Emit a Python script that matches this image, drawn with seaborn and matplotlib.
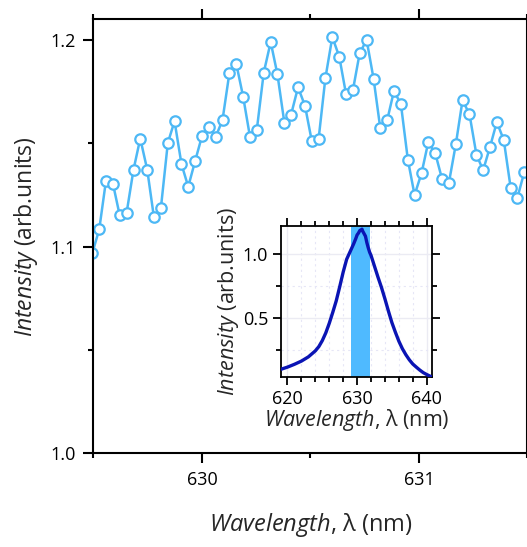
import matplotlib
matplotlib.use("Agg")
import matplotlib.pyplot as plt
from matplotlib.ticker import MultipleLocator
import numpy as np
import pandas as pd
import seaborn as sns

# Zoomed emission spectrum (sampled wavelengths, nm)
wavelength_nm = [
    629.495, 629.527, 629.558, 629.590, 629.621, 629.653, 629.685, 629.716,
    629.748, 629.779, 629.811, 629.843, 629.874, 629.906, 629.937, 629.969,
    630.001, 630.032, 630.064, 630.095, 630.127, 630.159, 630.190, 630.222,
    630.253, 630.285, 630.317, 630.348, 630.380, 630.411, 630.443, 630.475,
    630.506, 630.538, 630.569, 630.601, 630.633, 630.664, 630.696, 630.727,
    630.759, 630.791, 630.822, 630.854, 630.885, 630.917, 630.949, 630.980,
    631.012, 631.043, 631.075, 631.107, 631.138, 631.170, 631.201, 631.233,
    631.265, 631.296, 631.328, 631.359, 631.391, 631.423, 631.454, 631.486,
]
intensity = [
    1.0968, 1.1084, 1.1319, 1.1305, 1.1153, 1.1163, 1.1373, 1.1523,
    1.1373, 1.1142, 1.1186, 1.1502, 1.1607, 1.1399, 1.1290, 1.1415,
    1.1537, 1.1578, 1.1532, 1.1613, 1.1842, 1.1882, 1.1726, 1.1529,
    1.1565, 1.1842, 1.1990, 1.1834, 1.1600, 1.1639, 1.1771, 1.1682,
    1.1513, 1.1523, 1.1815, 1.2014, 1.1919, 1.1739, 1.1758, 1.1936,
    1.2000, 1.1813, 1.1573, 1.1613, 1.1753, 1.1690, 1.1421, 1.1250,
    1.1355, 1.1505, 1.1453, 1.1326, 1.1308, 1.1495, 1.1708, 1.1641,
    1.1445, 1.1370, 1.1484, 1.1603, 1.1516, 1.1283, 1.1237, 1.1363,
]

# Full emission band
full_wavelength_nm = [
    619.0, 620.0, 621.0, 622.0, 623.0, 624.0, 624.5, 625.0, 625.5, 626.0,
    626.5, 627.0, 627.5, 628.0, 628.5, 629.0, 629.5, 629.8, 630.0, 630.2,
    630.4, 630.6, 630.7, 630.8, 631.0, 631.2, 631.4, 631.6, 631.8, 632.0,
    632.5, 633.0, 633.5, 634.0, 634.5, 635.0, 635.5, 636.0, 636.5, 637.0,
    637.5, 638.0, 638.5, 639.0, 639.5, 640.0, 640.5, 641.0,
]
full_intensity = [
    0.100, 0.118, 0.140, 0.165, 0.198, 0.245, 0.278, 0.325, 0.385, 0.460,
    0.545, 0.635, 0.745, 0.860, 0.960, 1.020, 1.080, 1.120, 1.150, 1.165,
    1.185, 1.190, 1.195, 1.180, 1.160, 1.140, 1.090, 1.050, 1.015, 0.990,
    0.905, 0.820, 0.740, 0.650, 0.555, 0.465, 0.390, 0.320, 0.262, 0.215,
    0.175, 0.142, 0.118, 0.095, 0.075, 0.060, 0.047, 0.037,
]

# Wavelength window shown in the main panel, highlighted in the inset
window_nm = [629.15, 631.8]

main_x_ticks = [630, 631]
main_y_ticks = [1.0, 1.1, 1.2]
inset_x_ticks = [620, 630, 640]
inset_y_ticks = [0.5, 1.0]

sns.set_style("ticks")
plt.rcParams["font.family"] = ["Open Sans", "DejaVu Sans"]
plt.rcParams["mathtext.fontset"] = "custom"
plt.rcParams["mathtext.rm"] = "Open Sans"
plt.rcParams["mathtext.it"] = "Open Sans:italic"

LIGHT = "#4db8f5"
DARK = "#0a14b4"
BAND = "#4fbaff"

zoom_df = pd.DataFrame({"wl": wavelength_nm, "I": intensity})
full_df = pd.DataFrame({"wl": full_wavelength_nm, "I": full_intensity})

fig = plt.figure(figsize=(5.27, 5.47), dpi=100)
ax = fig.add_axes([0.1772, 0.1713, 0.8236, 0.7934])

sns.lineplot(data=zoom_df, x="wl", y="I", ax=ax, color=LIGHT, linewidth=1.8,
             marker="o", markersize=7.5, markerfacecolor="white",
             markeredgecolor=LIGHT, markeredgewidth=1.6, clip_on=True)

ax.set_xlim(629.5, 631.5)
ax.set_ylim(1.0, 1.21)
ax.set_xticks(main_x_ticks)
ax.set_xticklabels([str(t) for t in main_x_ticks])
ax.set_yticks(main_y_ticks)
ax.set_yticklabels([f"{t:.1f}" for t in main_y_ticks])
ax.xaxis.set_minor_locator(MultipleLocator(0.5))
ax.yaxis.set_minor_locator(MultipleLocator(0.05))
ax.tick_params(which="both", direction="out", width=1.5, top=True,
               labelsize=13, colors="black")
ax.tick_params(which="major", length=7.5, pad=5)
ax.tick_params(which="minor", length=3.5)
ax.tick_params(axis="y", which="both", right=False)
for side in ["top", "bottom", "left", "right"]:
    ax.spines[side].set_linewidth(1.5)
    ax.spines[side].set_color("black")
ax.set_xlabel(r"$\mathit{Wavelength}$, λ (nm)", fontsize=17, labelpad=16)
ax.set_ylabel(r"$\mathit{Intensity}$ (arb.units)", fontsize=16.5, labelpad=8)

# Inset: full emission spectrum with the zoom window marked
ins = fig.add_axes([0.5323, 0.3099, 0.2880, 0.2770])
ins.axvspan(window_nm[0], window_nm[1], color=BAND, lw=0, zorder=1)
sns.lineplot(data=full_df, x="wl", y="I", ax=ins, color=DARK, linewidth=2.4,
             zorder=3)
ins.set_xlim(619.0, 640.8)
ins.set_ylim(0.037, 1.22)
ins.set_xticks(inset_x_ticks)
ins.set_yticks(inset_y_ticks)
ins.set_yticklabels([f"{t:.1f}" for t in inset_y_ticks])
ins.xaxis.set_minor_locator(MultipleLocator(2))
ins.yaxis.set_minor_locator(MultipleLocator(0.25))
ins.grid(which="major", color="#ebebf3", linewidth=1.0, linestyle="-", zorder=0)
ins.grid(which="minor", color="#e6e6f6", linewidth=0.8, linestyle=(0, (2, 3)),
         zorder=0)
ins.set_axisbelow(True)
ins.tick_params(which="both", direction="out", width=1.3, top=True, right=True,
                labelsize=13, colors="black")
ins.tick_params(which="major", length=6, pad=3)
ins.tick_params(which="minor", length=3.5)
for side in ["top", "bottom", "left", "right"]:
    ins.spines[side].set_linewidth(1.3)
    ins.spines[side].set_color("black")
ins.set_xlabel(r"$\mathit{Wavelength}$, λ (nm)", fontsize=15.5, labelpad=-1)
ins.set_ylabel(r"$\mathit{Intensity}$ (arb.units)", fontsize=15.5, labelpad=1)

fig.savefig("out.png", dpi=100)
